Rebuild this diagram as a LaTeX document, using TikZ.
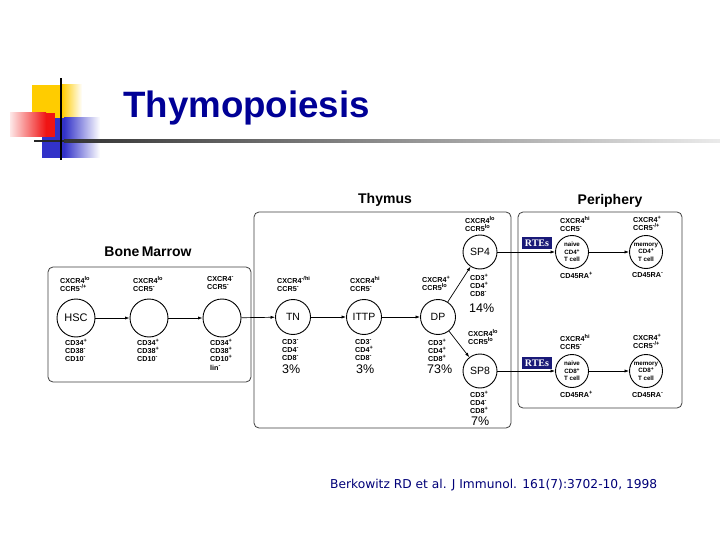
\documentclass[tikz,border=0pt]{standalone}
\usepackage{fontspec}
\setmainfont{Liberation Sans}
\newfontfamily\rtefont{Liberation Serif}
\newfontfamily\citefont{DejaVu Sans}
\usetikzlibrary{arrows.meta}
\definecolor{titleblue}{RGB}{0,0,150}
\definecolor{citeblue}{RGB}{0,0,120}
\definecolor{rteblue}{RGB}{25,25,120}
\definecolor{decoyellow}{RGB}{255,204,0}
\definecolor{decored}{RGB}{240,20,20}
\definecolor{decoblue}{RGB}{50,50,200}
\newcommand\spx[1]{\raisebox{0.8ex}{\fontsize{5.6}{5.6}\selectfont #1}}
\newcommand\spc[1]{\raisebox{0.6ex}{\fontsize{5}{5}\selectfont #1}}
\begin{document}
\begin{tikzpicture}[x=1pt,y=-1pt,
  cell/.style={circle, draw, line width=0.9pt, inner sep=0pt},
  lab/.style={font=\fontsize{7.2}{8.2}\selectfont\bfseries, align=left, inner sep=0pt, anchor=north west},
  pct/.style={font=\fontsize{12.5}{12.5}\selectfont, inner sep=0pt, anchor=west},
  arr/.style={-{Latex[length=4.5pt,width=3.2pt]}, line width=0.7pt},
  region/.style={draw=black!75, line width=0.8pt, rounded corners=5pt},
  hdr/.style={font=\fontsize{14}{14}\selectfont\bfseries, inner sep=0pt},
  rte/.style={fill=rteblue, text=white, font=\rtefont\fontsize{10}{10}\selectfont\bfseries, inner sep=1pt, minimum width=30pt, minimum height=12pt},
  incell/.style={font=\fontsize{6.2}{7.6}\selectfont\bfseries, align=center}
]
\useasboundingbox (0,0) rectangle (720,540);
\fill[white] (0,0) rectangle (720,540);
% decoration
\fill[decoyellow] (32,85) rectangle (62,120);
\shade[left color=decoyellow, right color=white] (62,85) rectangle (82,120);
\fill[decoblue] (42,118) rectangle (64,158);
\shade[left color=decoblue, right color=white] (64,118) rectangle (100,158);
\shade[left color=decored!10, right color=decored] (10,113) rectangle (46,137);
\fill[decored] (46,113) rectangle (55,137);
\fill[black!85] (34,139.7) rectangle (64,142.3);
\shade[left color=black!80, right color=black!8] (64,139.7) rectangle (720,142.3);
\fill[black] (59.7,78) rectangle (62.3,160);
\node[font=\fontsize{36.7}{40}\selectfont\bfseries, text=titleblue, anchor=west, inner sep=0pt] (title) at (123,108) {Thymopoiesis};

% region boxes
\draw[region] (48,267) rectangle (251,382);
\draw[region] (254,212) rectangle (511,428);
\draw[region] (518,212) rectangle (682,408);
\node[hdr] (hbm) at (148,252) {Bone\,Marrow};
\node[hdr] (hth) at (385,200) {Thymus};
\node[hdr] (hpe) at (610,201) {Periphery};

% bone marrow cells
\node[cell, minimum size=38pt, font=\fontsize{11}{11}\selectfont] (hsc) at (76,318) {HSC};
\node[cell, minimum size=38pt] (c2) at (149,318) {};
\node[cell, minimum size=38pt] (c3) at (222,318) {};
\node[lab] (l1a) at (60,276) {CXCR4\spx{lo}\\CCR5\spx{-/+}};
\node[lab] (l2a) at (133,276) {CXCR4\spx{lo}\\CCR5\spx{-}};
\node[lab] (l3a) at (207,276) {CXCR4\spx{-}\\CCR5\spx{-}};
\node[lab] (l1b) at (65,339) {CD34\spx{+}\\CD38\spx{-}\\CD10\spx{-}};
\node[lab] (l2b) at (137,339) {CD34\spx{+}\\CD38\spx{+}\\CD10\spx{-}};
\node[lab] (l3b) at (210,339) {CD34\spx{+}\\CD38\spx{+}\\CD10\spx{+}\\lin\spx{-}};

% thymus cells
\node[cell, minimum size=35pt, font=\fontsize{10.5}{10.5}\selectfont] (tn) at (293,317) {TN};
\node[cell, minimum size=35pt, font=\fontsize{10.5}{10.5}\selectfont] (ittp) at (364,317) {ITTP};
\node[cell, minimum size=35pt, font=\fontsize{10.5}{10.5}\selectfont] (dp) at (438,317) {DP};
\node[cell, minimum size=34pt, font=\fontsize{10.5}{10.5}\selectfont] (sp4) at (480,252) {SP4};
\node[cell, minimum size=34pt, font=\fontsize{10.5}{10.5}\selectfont] (sp8) at (480,371) {SP8};
\node[lab] (tna) at (277,276) {CXCR4\spx{-/hi}\\CCR5\spx{-}};
\node[lab] (itta) at (350,276) {CXCR4\spx{hi}\\CCR5\spx{-}};
\node[lab] (dpa) at (422,276) {CXCR4\spx{+}\\CCR5\spx{lo}};
\node[lab] (tnb) at (282,339) {CD3\spx{-}\\CD4\spx{-}\\CD8\spx{-}};
\node[lab] (ittb) at (355,339) {CD3\spx{-}\\CD4\spx{+}\\CD8\spx{-}};
\node[lab] (dpb) at (428,339) {CD3\spx{+}\\CD4\spx{+}\\CD8\spx{+}};
\node[pct] (tnp) at (282,369) {3\%};
\node[pct] (ittp2) at (356,369) {3\%};
\node[pct] (dpp) at (427,369) {73\%};
\node[lab] (sp4a) at (465,216) {CXCR4\spx{lo}\\CCR5\spx{lo}};
\node[lab] (sp4b) at (470,274) {CD3\spx{+}\\CD4\spx{+}\\CD8\spx{-}};
\node[pct] (sp4p) at (469,308) {14\%};
\node[lab] (sp8a) at (468,329) {CXCR4\spx{lo}\\CCR5\spx{lo}};
\node[lab] (sp8b) at (470,391) {CD3\spx{+}\\CD4\spx{-}\\CD8\spx{+}};
\node[pct] (sp8p) at (471,421) {7\%};

% periphery cells
\node[cell, minimum size=33pt, incell] (n4) at (572,252) {naive\\CD4\spc{+}\\T cell};
\node[cell, minimum size=33pt, incell] (m4) at (646,252) {memory\\CD4\spc{+}\\T cell};
\node[cell, minimum size=33pt, incell] (n8) at (572,371) {naive\\CD8\spc{+}\\T cell};
\node[cell, minimum size=33pt, incell] (m8) at (646,371) {memory\\CD8\spc{+}\\T cell};
\node[lab] (n4a) at (560,216) {CXCR4\spx{hi}\\CCR5\spx{-}};
\node[lab] (m4a) at (633,216) {CXCR4\spx{+}\\CCR5\spx{-/+}};
\node[lab] (n4b) at (560,272) {CD45RA\spx{+}};
\node[lab] (m4b) at (632,272) {CD45RA\spx{-}};
\node[lab] (n8a) at (560,334) {CXCR4\spx{hi}\\CCR5\spx{-}};
\node[lab] (m8a) at (633,334) {CXCR4\spx{+}\\CCR5\spx{-/+}};
\node[lab] (n8b) at (560,391) {CD45RA\spx{+}};
\node[lab] (m8b) at (632,392) {CD45RA\spx{-}};
\node[rte] (rte4) at (537,243) {RTEs};
\node[rte] (rte8) at (537,363) {RTEs};

% connectors
\draw[arr] (hsc) -- (c2);
\draw[arr] (c2) -- (c3);
\draw[arr] (c3) -- (tn);
\draw[arr] (tn) -- (ittp);
\draw[arr] (ittp) -- (dp);
\draw[arr] (dp) -- (sp4);
\draw[arr] (dp) -- (sp8);
\draw[arr] (sp4) -- (n4);
\draw[arr] (sp8) -- (n8);
\draw[arr] (n4) -- (m4);
\draw[arr] (n8) -- (m8);

% citation
\node[text=citeblue, inner sep=0pt, anchor=west] (cite) at (330,485) {\resizebox{327pt}{!}{\citefont Berkowitz RD et al. J Immunol. 161(7):3702-10, 1998}};
\end{tikzpicture}
\end{document}
